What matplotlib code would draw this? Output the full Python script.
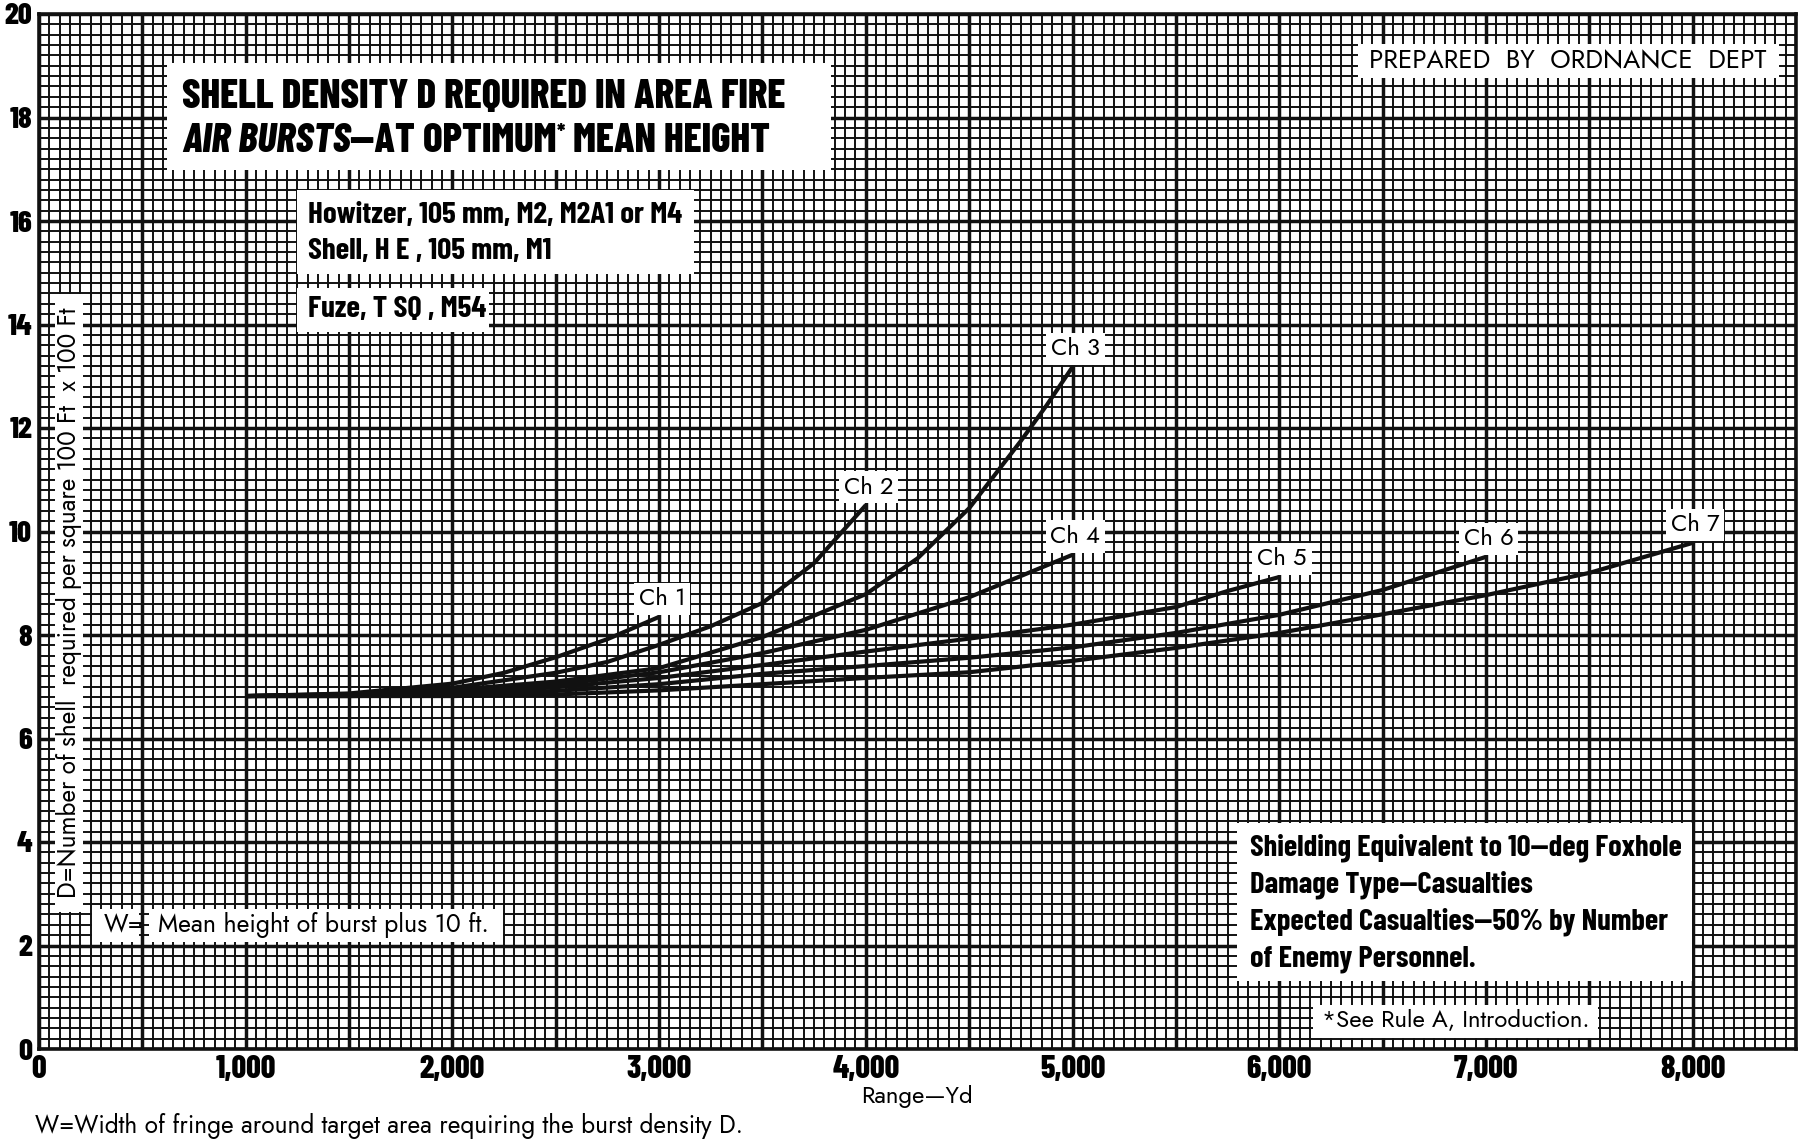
import matplotlib
matplotlib.use("Agg")
import matplotlib.pyplot as plt
from matplotlib.patches import Rectangle
import numpy as np

# curves: range (yd) and shell density D
ch1_x = [1000, 1500, 2000, 2250, 2500, 2750, 3000]
ch1_y = [6.82, 6.87, 7.06, 7.27, 7.57, 7.92, 8.35]

ch2_x = [1000, 1500, 2000, 2500, 2750, 3000, 3250, 3500, 3750, 4000]
ch2_y = [6.82, 6.86, 6.98, 7.27, 7.48, 7.81, 8.17, 8.62, 9.39, 10.51]

ch3_x = [1000, 1500, 2000, 2500, 3000, 3500, 4000, 4250, 4500, 4750, 4875, 5000]
ch3_y = [6.82, 6.85, 6.94, 7.10, 7.36, 7.96, 8.79, 9.48, 10.45, 11.75, 12.44, 13.18]

ch4_x = [1000, 1500, 2000, 2500, 3000, 3500, 4000, 4500, 5000]
ch4_y = [6.82, 6.84, 6.90, 7.04, 7.28, 7.65, 8.10, 8.73, 9.55]

ch5_x = [1000, 1500, 2000, 2500, 3000, 3500, 4000, 4500, 5000, 5500, 5750, 6000]
ch5_y = [6.82, 6.83, 6.87, 6.99, 7.17, 7.42, 7.68, 7.93, 8.20, 8.54, 8.85, 9.12]

ch6_x = [1000, 1500, 2000, 2500, 3000, 3500, 4000, 4500, 5000, 5500, 6000, 6500, 7000]
ch6_y = [6.82, 6.82, 6.84, 6.92, 7.05, 7.25, 7.40, 7.56, 7.76, 8.04, 8.39, 8.87, 9.51]

ch7_x = [1000, 1500, 2000, 2500, 3000, 3500, 4000, 4500, 5000, 5500, 6000, 6500, 7000, 7500, 8000]
ch7_y = [6.82, 6.82, 6.82, 6.85, 6.93, 7.05, 7.17, 7.28, 7.50, 7.75, 8.04, 8.40, 8.77, 9.20, 9.78]

curves = [("Ch 1", ch1_x, ch1_y), ("Ch 2", ch2_x, ch2_y), ("Ch 3", ch3_x, ch3_y),
          ("Ch 4", ch4_x, ch4_y), ("Ch 5", ch5_x, ch5_y), ("Ch 6", ch6_x, ch6_y),
          ("Ch 7", ch7_x, ch7_y)]

x_ticks = list(range(0, 8501, 500))
y_ticks = list(range(0, 21, 2))

title_1 = "SHELL DENSITY D REQUIRED IN AREA FIRE"
title_2 = ["AIR BURSTS", "—AT OPTIMUM", "*", " MEAN HEIGHT"]
gun_lines = ["Howitzer, 105 mm, M2, M2A1 or M4", "Shell, H E , 105 mm, M1"]
fuze_text = "Fuze, T SQ , M54"
cond_lines = ["Shielding Equivalent to 10—deg Foxhole", "Damage Type—Casualties",
              "Expected Casualties—50% by Number", "of Enemy Personnel."]

NARROW = dict(family=["Barlow Condensed", "Fira Sans Extra Condensed", "Roboto Condensed",
                      "DejaVu Sans"], stretch="condensed", weight="bold")
HEAVY = dict(family=["Barlow Condensed ExtraBold", "Barlow Condensed", "DejaVu Sans"],
             stretch="condensed", weight="heavy")
ROUND = dict(family=["Jost", "Didact Gothic", "Lato", "DejaVu Sans"], weight="medium")
INK = "#111111"

fig = plt.figure(figsize=(18.05, 11.4), dpi=100)
ax = fig.add_axes([39 / 1805, 91 / 1140, 1757 / 1805, 1035 / 1140])
ax.set_xlim(0, 8500)
ax.set_ylim(0, 20)

# graph paper grid
ax.set_xticks(x_ticks)
ax.set_xticklabels([f"{v:,}" if v % 1000 == 0 else "" for v in x_ticks])
ax.set_yticks(y_ticks)
ax.set_xticks(np.arange(0, 8501, 50), minor=True)
ax.set_yticks(np.arange(0, 20.01, 0.2), minor=True)
ax.grid(which="minor", color=INK, lw=1.4, zorder=0)
ax.grid(which="major", color=INK, lw=2.5, zorder=0)
ax.set_axisbelow(True)
ax.tick_params(which="both", length=0)
ax.tick_params(axis="x", pad=4)
ax.tick_params(axis="y", pad=5)
for lab in ax.get_xticklabels():
    lab.set_fontproperties(dict(HEAVY, size=23))
for lab in ax.get_yticklabels():
    lab.set_fontproperties(dict(HEAVY, size=22))
for s in ax.spines.values():
    s.set_linewidth(2.6)
    s.set_color(INK)


def axpos(px, py):
    return (px - 39) / 1757, (1049 - py) / 1035


def white_box(x0, y0, x1, y1):
    (ax0, ay1), (ax1, ay0) = axpos(x0, y0), axpos(x1, y1)
    ax.add_patch(Rectangle((ax0, ay0), ax1 - ax0, ay1 - ay0, transform=ax.transAxes,
                           fc="white", ec="none", zorder=5, clip_on=False))


def put(px, py, s, size, props, ha="left", **kw):
    return ax.text(*axpos(px, py), s, transform=ax.transAxes, ha=ha, va="center",
                   fontsize=size, zorder=6, clip_on=False, **props, **kw)


# curves and their labels
ch_labels = []
for name, xs, ys in curves:
    ax.plot(xs, ys, color=INK, lw=3, solid_capstyle="butt", zorder=3)
    ch_labels.append(ax.annotate(name, (xs[-1], ys[-1]), xytext=(2, 13),
                                 textcoords="offset points", ha="center", va="center",
                                 fontsize=17, zorder=7, **ROUND,
                                 bbox=dict(boxstyle="square,pad=0.2", fc="white", ec="none")))

# white panels
white_box(167, 63, 831, 170)
white_box(297, 190, 694, 274)
white_box(297, 288, 489, 332)
white_box(1237, 823, 1692, 981)
white_box(1358, 44, 1779, 78)
white_box(1313, 1005, 1598, 1038)
white_box(92, 909, 139, 942)
white_box(149, 909, 503, 942)
white_box(55, 294, 83, 912)

fitted = []  # (text, target width in px)

t1 = put(182, 97, title_1, 26, HEAVY)
fitted.append((t1, 605))
t2 = put(182, 141, title_2[0], 26, HEAVY, style="italic")
t3 = ax.annotate(title_2[1], xy=(1, 0), xycoords=t2, ha="left", va="bottom",
                 fontsize=26, zorder=6, **HEAVY)
t4 = ax.annotate(title_2[2], xy=(1, 0.42), xycoords=t3, ha="left", va="bottom",
                 fontsize=15, zorder=6, **HEAVY)
t5 = ax.annotate(title_2[3], xy=(1, 0), xycoords=(t4, t3), ha="left", va="bottom",
                 fontsize=26, zorder=6, **HEAVY)

g1 = put(308, 215, gun_lines[0], 19, NARROW)
g2 = put(308, 252, gun_lines[1], 19, NARROW)
fz = put(308, 309, fuze_text, 19, NARROW)
fitted.append((g1, 375))
cond = [put(1250, y, s, 19, NARROW) for y, s in zip([848, 885, 922, 959], cond_lines)]
fitted.append((cond[0], 431))

prep = put(1568, 61, "PREPARED  BY  ORDNANCE  DEPT", 16, ROUND, ha="center")
fitted.append((prep, 395))
rule = put(1322, 1020, "*See Rule A, Introduction.", 17, ROUND)
fitted.append((rule, 268))
w_eq = put(104, 925, "W=", 17, ROUND)
mean = put(158, 925, "Mean height of burst plus 10 ft.", 17, ROUND)
fitted.append((mean, 331))
ylab = put(69, 603, "D=Number of shell  required per square 100 Ft  x 100 Ft", 17, ROUND,
           ha="center", rotation=90)
fitted.append((ylab, 591))
xlab = put(917, 1097, "Range—Yd", 17, ROUND, ha="center")
fitted.append((xlab, 112))
foot = put(35, 1126, "W=Width of fringe around target area requiring the burst density D.",
           17, ROUND)
fitted.append((foot, 707))
fitted.append((ch_labels[0], 47))

# scale fonts so the widths follow the printed chart
fig.canvas.draw()
r = fig.canvas.get_renderer()
for t, target in fitted:
    ext = t.get_window_extent(r)
    w = ext.height if t.get_rotation() else ext.width
    t.set_fontsize(t.get_fontsize() * target / w)

scale_title = t1.get_fontsize() / 26
for t in (t2, t3, t5):
    t.set_fontsize(t1.get_fontsize())
t4.set_fontsize(15 * scale_title)
for t in (g2, fz):
    t.set_fontsize(g1.get_fontsize())
for t in cond[1:]:
    t.set_fontsize(cond[0].get_fontsize())
w_eq.set_fontsize(mean.get_fontsize())
for t in ch_labels[1:]:
    t.set_fontsize(ch_labels[0].get_fontsize())

fig.savefig("out.png", dpi=100, facecolor="white")
